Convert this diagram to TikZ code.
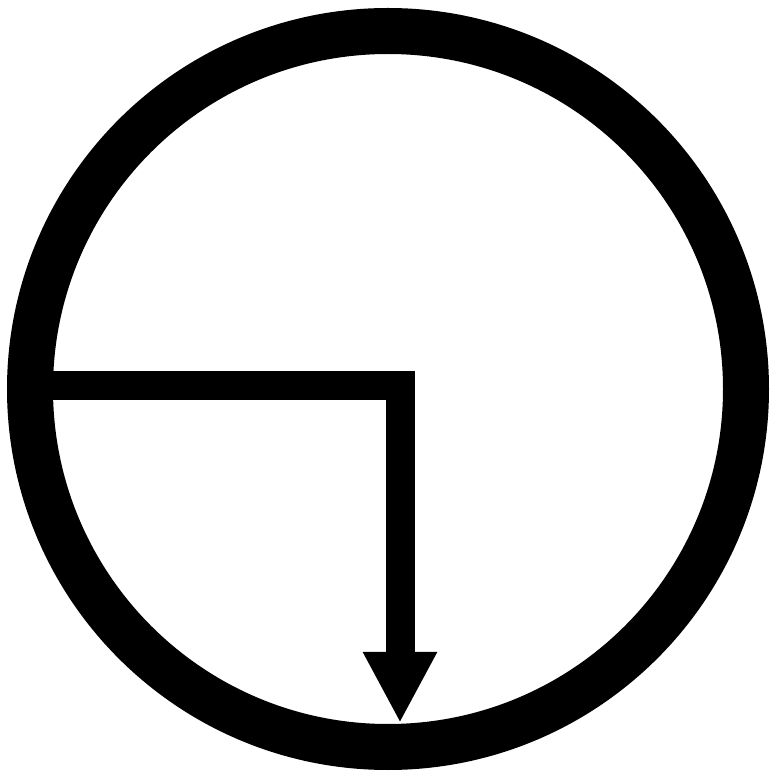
\documentclass[tikz,border=0pt]{standalone}
\usepackage{tikz}
\usetikzlibrary{positioning,arrows.meta,calc}

\begin{document}
\begin{tikzpicture}[
    ring/.style={draw=black, line width=0.46cm},
    arrow/.style={-{Triangle[length=0.71cm, width=0.69cm]}, line width=0.29cm, line join=miter, color=black}
]
\useasboundingbox (0,0) rectangle (7.71,7.76);

\coordinate (Center) at (3.88,3.87);
\coordinate (Start) at (0.40,3.90);
\coordinate (Corner) at (4.00,3.90);
\coordinate (Tip) at (4.00,0.53);

\draw[ring] (Center) circle[radius=3.58cm];

\draw[arrow] (Start) -- (Corner) -- (Tip);

\end{tikzpicture}
\end{document}
